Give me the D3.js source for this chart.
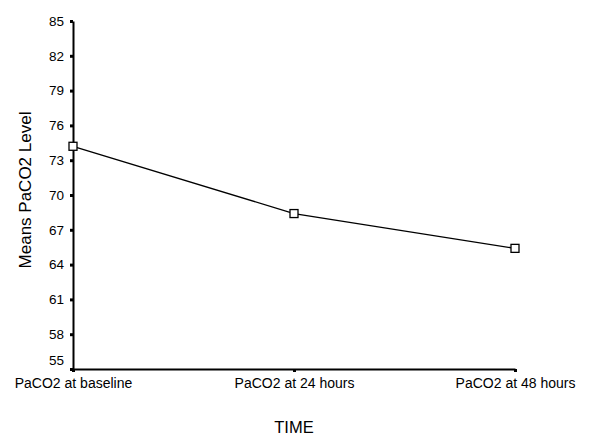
<!DOCTYPE html>
<html lang="en">
<head>
  <meta charset="UTF-8">
  <title>Means PaCO2 Level</title>
  <script src="https://d3js.org/d3.v7.min.js"></script>
  <style>
    body { margin: 0; background: #fff; }
    text { font-family: Arial, "Liberation Sans", sans-serif; fill: #000; }
  </style>
</head>
<body>
  <div id="chart"></div>
  <script>
  // data
  var times = ["PaCO2 at baseline", "PaCO2 at 24 hours", "PaCO2 at 48 hours"];
  var means = [74.2, 68.4, 65.4];
  var yTicks = [55, 58, 61, 64, 67, 70, 73, 76, 79, 82, 85];

  var width = 600, height = 446;
  var margin = {top: 21, right: 85, bottom: 77, left: 73};
  var w = width - margin.left - margin.right,
      h = height - margin.top - margin.bottom;

  var svg = d3.select("#chart")
    .append("svg")
      .attr("width", width)
      .attr("height", height)
    .append("g")
      .attr("transform", "translate(" + margin.left + "," + margin.top + ")");

  var x = d3.scalePoint()
    .domain(times)
    .range([0, w])
    .padding(0);

  var y = d3.scaleLinear()
    .domain([55, 85])
    .range([h, 0]);

  // y axis
  var yAxis = svg.append("g")
    .call(d3.axisLeft(y).tickValues(yTicks).tickSize(3).tickPadding(6).tickSizeOuter(0));
  yAxis.select(".domain").attr("stroke-width", 2);
  yAxis.selectAll(".tick line").attr("stroke-width", 3);
  yAxis.selectAll("text").style("font-size", "13.5px");
  // bottom label sits a bit higher so it clears the category labels
  yAxis.selectAll(".tick text")
    .filter(function(d) { return d === 55; })
    .attr("dy", "-0.3em");

  // x axis
  var xAxis = svg.append("g")
    .attr("transform", "translate(0," + h + ")")
    .call(d3.axisBottom(x).tickSize(3).tickPadding(6).tickSizeOuter(0));
  xAxis.select(".domain").attr("stroke-width", 2);
  xAxis.selectAll(".tick line").attr("stroke-width", 3);
  xAxis.selectAll("text").style("font-size", "14px");

  // line
  var line = d3.line()
    .x(function(d, i) { return x(times[i]); })
    .y(function(d) { return y(d); });

  svg.append("path")
    .datum(means)
    .attr("fill", "none")
    .attr("stroke", "#000")
    .attr("stroke-width", 1.3)
    .attr("d", line);

  // square markers
  svg.selectAll(".pt")
    .data(means)
    .enter()
    .append("rect")
      .attr("class", "pt")
      .attr("x", function(d, i) { return x(times[i]) - 4; })
      .attr("y", function(d) { return y(d) - 4; })
      .attr("width", 8)
      .attr("height", 8)
      .attr("fill", "#fff")
      .attr("stroke", "#000")
      .attr("stroke-width", 1.3);

  // axis titles
  svg.append("text")
    .attr("transform", "rotate(-90)")
    .attr("x", -169)
    .attr("y", -42)
    .attr("text-anchor", "middle")
    .style("font-size", "17px")
    .text("Means PaCO2 Level");

  svg.append("text")
    .attr("x", x(times[1]))
    .attr("y", h + 64)
    .attr("text-anchor", "middle")
    .style("font-size", "16.5px")
    .text("TIME");
  </script>
</body>
</html>
